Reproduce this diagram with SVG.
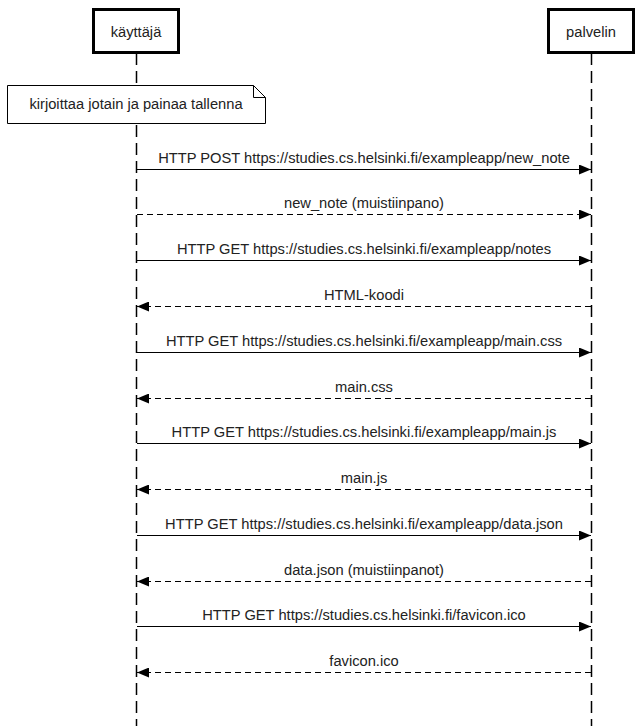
<svg xmlns="http://www.w3.org/2000/svg" width="637" height="726" viewBox="0 0 637 726">
<style>
.box{fill:#fff;stroke:#000;stroke-width:3}
.life{stroke:#000;stroke-width:1.5;stroke-dasharray:12 6;fill:none}
.msg{stroke:#000;stroke-width:1;fill:none}
.ret{stroke:#000;stroke-width:1;fill:none;stroke-dasharray:6 4}
text{font-family:"Liberation Sans",Arial,sans-serif;font-size:14.7px;fill:#222}
.lbl{text-anchor:middle}
</style>
<defs>
<marker id="ah" markerWidth="12" markerHeight="10" refX="12" refY="5" orient="auto" markerUnits="userSpaceOnUse">
<path d="M0,0 L12,5 L0,10 Z" fill="#000"/>
</marker>
</defs>
<g id="lifelines">
<line class="life" x1="136.5" y1="53" x2="136.5" y2="726"/>
<line class="life" x1="591.5" y1="53" x2="591.5" y2="726"/>
</g>
<g id="kayttaja">
<rect class="box" x="93.5" y="9.5" width="85" height="43"/>
<text class="lbl" x="136" y="36.5">käyttäjä</text>
</g>
<g id="palvelin">
<rect class="box" x="548.5" y="9.5" width="85" height="43"/>
<text class="lbl" x="591" y="36.5">palvelin</text>
</g>
<g id="note">
<path d="M7.5,85.5 H253.5 L265.5,97.5 V123.5 H7.5 Z" fill="#fff" stroke="#000" stroke-width="1"/>
<path d="M253.5,85.5 V97.5 H265.5" fill="none" stroke="#000" stroke-width="1"/>
<text class="lbl" x="136" y="109">kirjoittaa jotain ja painaa tallenna</text>
</g>
<g id="connectors">
<line class="msg" x1="137" y1="169.5" x2="591" y2="169.5" marker-end="url(#ah)"/>
<text class="lbl" x="364" y="163">HTTP POST https://studies.cs.helsinki.fi/exampleapp/new_note</text>
<line class="ret" x1="137" y1="214.5" x2="591" y2="214.5" marker-end="url(#ah)"/>
<text class="lbl" x="364" y="208">new_note (muistiinpano)</text>
<line class="msg" x1="137" y1="260.5" x2="591" y2="260.5" marker-end="url(#ah)"/>
<text class="lbl" x="364" y="254">HTTP GET https://studies.cs.helsinki.fi/exampleapp/notes</text>
<line class="ret" x1="591" y1="306.5" x2="137" y2="306.5" marker-end="url(#ah)"/>
<text class="lbl" x="364" y="300">HTML-koodi</text>
<line class="msg" x1="137" y1="352.5" x2="591" y2="352.5" marker-end="url(#ah)"/>
<text class="lbl" x="364" y="346">HTTP GET https://studies.cs.helsinki.fi/exampleapp/main.css</text>
<line class="ret" x1="591" y1="398.5" x2="137" y2="398.5" marker-end="url(#ah)"/>
<text class="lbl" x="364" y="392">main.css</text>
<line class="msg" x1="137" y1="443.5" x2="591" y2="443.5" marker-end="url(#ah)"/>
<text class="lbl" x="364" y="437">HTTP GET https://studies.cs.helsinki.fi/exampleapp/main.js</text>
<line class="ret" x1="591" y1="489.5" x2="137" y2="489.5" marker-end="url(#ah)"/>
<text class="lbl" x="364" y="483">main.js</text>
<line class="msg" x1="137" y1="535.5" x2="591" y2="535.5" marker-end="url(#ah)"/>
<text class="lbl" x="364" y="529">HTTP GET https://studies.cs.helsinki.fi/exampleapp/data.json</text>
<line class="ret" x1="591" y1="581.5" x2="137" y2="581.5" marker-end="url(#ah)"/>
<text class="lbl" x="364" y="575">data.json (muistiinpanot)</text>
<line class="msg" x1="137" y1="626.5" x2="591" y2="626.5" marker-end="url(#ah)"/>
<text class="lbl" x="364" y="620">HTTP GET https://studies.cs.helsinki.fi/favicon.ico</text>
<line class="ret" x1="591" y1="672.5" x2="137" y2="672.5" marker-end="url(#ah)"/>
<text class="lbl" x="364" y="666">favicon.ico</text>
</g>
</svg>
